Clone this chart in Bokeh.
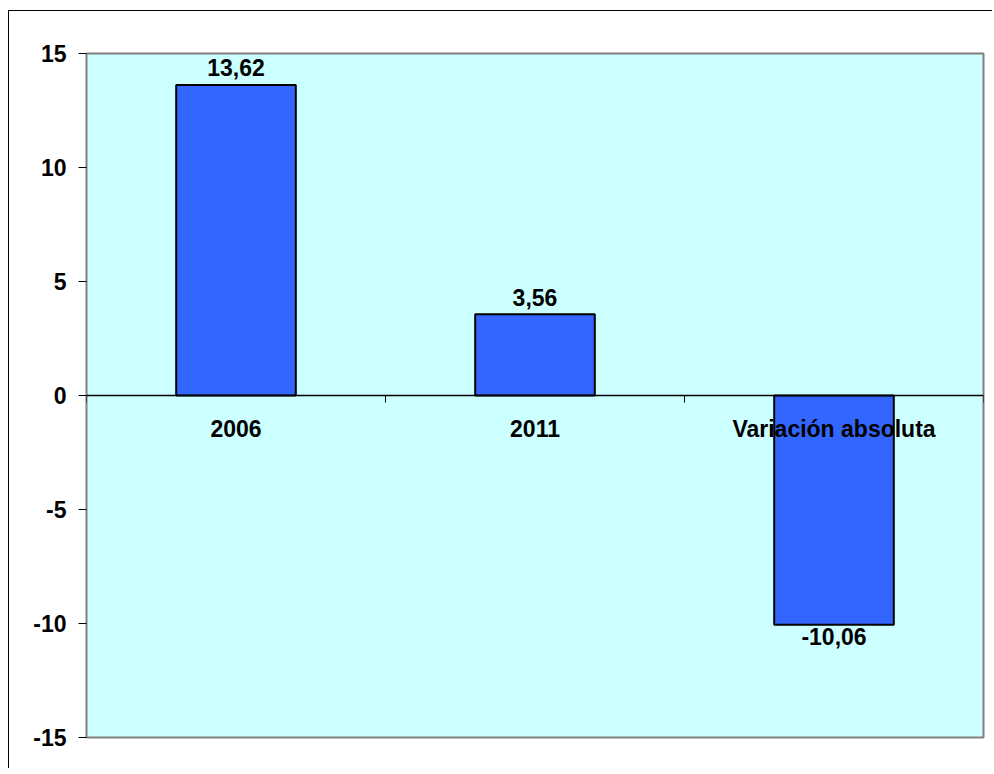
from bokeh.plotting import figure
from bokeh.models import Range1d, FixedTicker, ColumnDataSource
from bokeh.embed import file_html
from bokeh.resources import INLINE
from bokeh.core.properties import value

# ---- data ----
categories = ["2006", "2011", "Variación absoluta"]
values = [13.62, 3.56, -10.06]
y_ticks = [-15, -10, -5, 0, 5, 10, 15]

FONT = "Liberation Sans"
FSIZE = "23px"
n = len(categories)
xs = [i + 0.5 for i in range(n)]
labels = [f"{v:.2f}".replace(".", ",") for v in values]
label_offsets = [-17 if v >= 0 else 12 for v in values]

src = ColumnDataSource(dict(x=xs, top=values, lab=labels, off=label_offsets, cat=categories))

W, H = 984, 758
p = figure(width=W, height=H, output_backend="svg", toolbar_location=None,
           x_range=Range1d(0, n), y_range=Range1d(y_ticks[0], y_ticks[-1]),
           min_border_left=77, min_border_top=42, min_border_right=W - 974,
           min_border_bottom=H - 726)
p.styles = {"border-left": "1px solid black", "border-top": "1px solid black",
            "margin-top": "10px", "margin-left": "8px"}

p.background_fill_color = "#CCFFFF"
p.border_fill_color = "white"
p.outline_line_color = "#808080"
p.outline_line_width = 2
p.xgrid.visible = False
p.ygrid.visible = False

# bars
p.vbar(x="x", top="top", bottom=0, width=0.4, source=src,
       fill_color="#3366FF", line_color="black", line_width=2)

# value labels
p.text(x="x", y="top", text="lab", source=src, y_offset="off",
       text_align="center", text_baseline="middle",
       text_font=value(FONT), text_font_style="bold", text_font_size=FSIZE, text_color="black")

# category labels (drawn over the bars, below the zero line)
p.text(x="x", y=0, text="cat", source=src, y_offset=33,
       text_align="center", text_baseline="middle",
       text_font=value(FONT), text_font_style="bold", text_font_size=FSIZE, text_color="black")

# x axis as the zero line with ticks at category boundaries
xa = p.xaxis[0]
xa.fixed_location = 0
xa.ticker = FixedTicker(ticks=list(range(n + 1)))
xa.major_label_overrides = {i: "" for i in range(n + 1)}
xa.axis_line_color = "black"
xa.axis_line_width = 1.5
xa.major_tick_line_color = "black"
xa.major_tick_in = 0
xa.major_tick_out = 7
xa.minor_tick_line_color = None

# y axis
ya = p.yaxis[0]
ya.ticker = FixedTicker(ticks=y_ticks)
ya.major_label_overrides = {t: str(t) for t in y_ticks}
ya.axis_line_color = None
ya.major_tick_line_color = "black"
ya.major_tick_in = 0
ya.major_tick_out = 8
ya.minor_tick_line_color = None
ya.major_label_standoff = 12
ya.major_label_text_font = FONT
ya.major_label_text_font_style = "bold"
ya.major_label_text_font_size = FSIZE
ya.major_label_text_color = "black"

open("out.html", "w").write(file_html(p, INLINE))
